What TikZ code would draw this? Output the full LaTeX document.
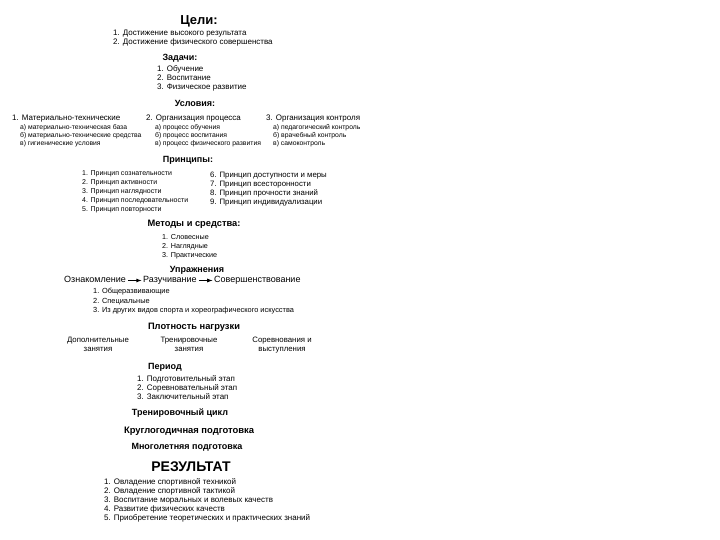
\documentclass[tikz,border=0pt]{standalone}
\usepackage{fontspec}
\setmainfont{Liberation Sans}
\usetikzlibrary{arrows,positioning}

\begin{document}
\begin{tikzpicture}[x=1pt,y=-1pt,
    title/.style={font=\bfseries\fontsize{9}{10}\selectfont},
    item/.style={anchor=west,inner sep=0pt,text height=5.8pt,text depth=1.6pt,font=\fontsize{8}{9}\selectfont},
    sub/.style={item,font=\fontsize{6.8}{8}\selectfont},
    twoline/.style={anchor=north,inner sep=0pt,align=center,font=\fontsize{7.8}{9}\selectfont},
    step arrow/.style={-latex,line width=0.8pt,shorten <=2pt,shorten >=1.5pt}]
    \useasboundingbox (0,0) rectangle (720,540);
    % цели и задачи
    \node[font=\bfseries\fontsize{13}{14}\selectfont] (celi) at (199,21) {Цели:};
    \node[item] (cel1) at (113,33) {1. Достижение высокого результата};
    \node[item] (cel2) at (113,42) {2. Достижение физического совершенства};
    \node[title] (zadachi) at (180,58) {Задачи:};
    \foreach \t [count=\i] in {Обучение, Воспитание, Физическое развитие}
        \node[item] (zad\i) at (157,60+9*\i) {\i. \t};
    % условия
    \node[title] (uslovija) at (195,103) {Условия:};
    \node[item] (usl1) at (12,118) {1. Материально-технические};
    \node[item] (usl2) at (146,118) {2. Организация процесса};
    \node[item] (usl3) at (266,118) {3. Организация контроля};
    \foreach \t [count=\i] in {а) материально-техническая база, б) материально-технические средства, в) гигиенические условия}
        \node[sub] (usla\i) at (20,119+8*\i) {\t};
    \foreach \t [count=\i] in {а) процесс обучения, б) процесс воспитания, в) процесс физического развития}
        \node[sub] (uslb\i) at (155,119+8*\i) {\t};
    \foreach \t [count=\i] in {а) педагогический контроль, б) врачебный контроль, в) самоконтроль}
        \node[sub] (uslc\i) at (273,119+8*\i) {\t};
    % принципы
    \node[title] (principy) at (188,160) {Принципы:};
    \foreach \t [count=\i] in {сознательности, активности, наглядности, последовательности, повторности}
        \node[item,font=\fontsize{7}{8}\selectfont] (pr\i) at (82,164+9*\i) {\i. Принцип \t};
    \foreach \t [count=\i from 6] in {доступности и меры, всесторонности, прочности знаний, индивидуализации}
        \node[item,font=\fontsize{7.8}{9}\selectfont] (pr\i) at (210,121+9*\i) {\i. Принцип \t};
    % методы
    \node[title,font=\bfseries\fontsize{9.3}{10}\selectfont] (metody) at (194,224) {Методы и средства:};
    \foreach \t [count=\i] in {Словесные, Наглядные, Практические}
        \node[item,font=\fontsize{7.2}{8}\selectfont] (met\i) at (162,228+9*\i) {\i. \t};
    % упражнения
    \node[title] (uprazh) at (197,270) {Упражнения};
    \node[item,font=\fontsize{9}{10}\selectfont] (oznak) at (64,280.5) {Ознакомление};
    \node[item,font=\fontsize{9}{10}\selectfont,right=17pt of oznak] (razuch) {Разучивание};
    \node[item,font=\fontsize{9}{10}\selectfont,right=17pt of razuch] (soversh) {Совершенствование};
    \draw[step arrow] (oznak) -- (razuch);
    \draw[step arrow] (razuch) -- (soversh);
    \foreach \t [count=\i] in {Общеразвивающие, Специальные, Из других видов спорта и хореографического искусства}
        \node[item,font=\fontsize{7.4}{8.5}\selectfont] (upr\i) at (93,282+9.5*\i) {\i. \t};
    % плотность нагрузки
    \node[title,font=\bfseries\fontsize{9.3}{10}\selectfont] (plotn) at (194,327) {Плотность нагрузки};
    \node[twoline] (dop) at (98,337) {Дополнительные\\занятия};
    \node[twoline] (tren) at (189,337) {Тренировочные\\занятия};
    \node[twoline] (sorev) at (282,337) {Соревнования и\\выступления};
    % период
    \node[title] (period) at (165,367) {Период};
    \foreach \t [count=\i] in {Подготовительный этап, Соревновательный этап, Заключительный этап}
        \node[item] (per\i) at (137,370+9*\i) {\i. \t};
    \node[title] (cikl) at (180,413) {Тренировочный цикл};
    \node[title,font=\bfseries\fontsize{9.4}{10}\selectfont] (krugl) at (189,431) {Круглогодичная подготовка};
    \node[title] (mnogo) at (187,447) {Многолетняя подготовка};
    % результат
    \node[font=\bfseries\fontsize{14}{15}\selectfont] (rezult) at (191,467) {РЕЗУЛЬТАТ};
    \foreach \t [count=\i] in {Овладение спортивной техникой, Овладение спортивной тактикой, Воспитание моральных и волевых качеств, Развитие физических качеств, Приобретение теоретических и практических знаний}
        \node[item] (rez\i) at (104,473+9*\i) {\i. \t};
\end{tikzpicture}
\end{document}
